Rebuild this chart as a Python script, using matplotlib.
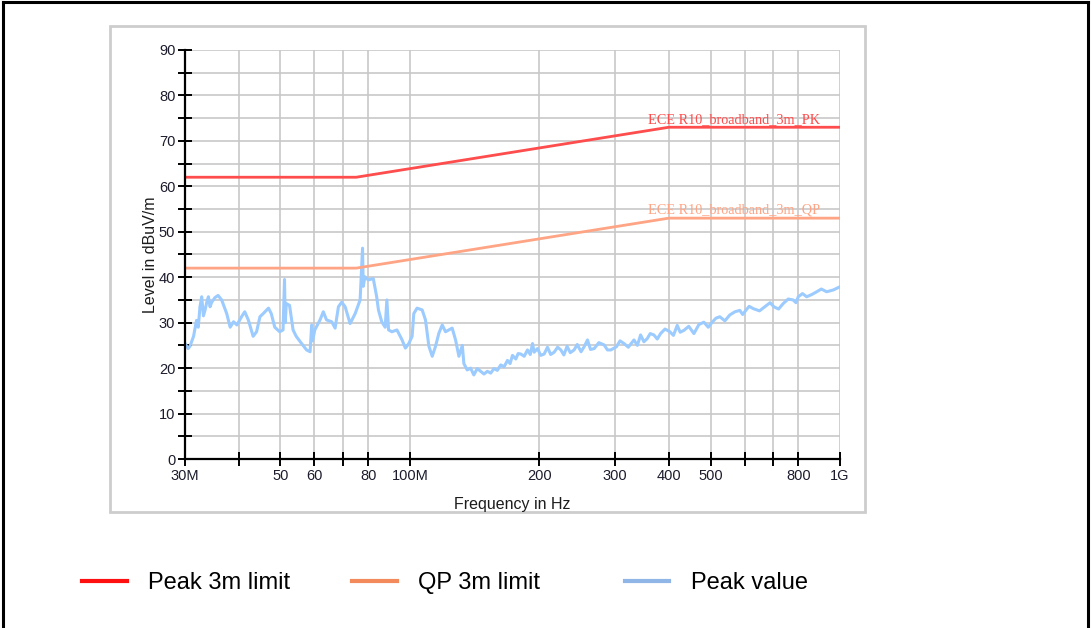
import matplotlib.pyplot as plt
from matplotlib.lines import Line2D
from matplotlib.patches import Rectangle
from matplotlib.ticker import FixedLocator, FixedFormatter, NullLocator

# limit lines (ECE R10 broadband, 3 m)
limit_freq = [30, 75, 400, 1000]
pk_limit = [62, 62, 73, 73]
qp_limit = [42, 42, 53, 53]

# measured peak trace, MHz / dBuV/m
peak_freq = [30.0, 30.5, 30.8, 31.4, 31.9, 32.2, 32.5, 32.8, 33.1, 33.4, 33.7, 34.0, 34.3, 34.6,
             35.2, 35.8, 36.5, 37.5, 38.2, 38.9, 39.6, 40.6, 41.3, 42.1, 43.2, 44.0, 44.8, 45.6,
             46.9, 47.6, 48.5, 49.8, 50.7, 51.1, 51.3, 51.6, 52.5, 53.5, 54.4, 56.0, 57.5, 58.6,
             59.1, 59.4, 60.1, 61.8, 62.9, 64.0, 65.8, 67.0, 68.2, 69.4, 70.7, 72.6, 74.6, 76.6,
             77.6, 77.9, 78.6, 80.0, 82.2, 83.7, 84.5, 86.0, 87.6, 88.4, 89.2, 90.8, 93.3, 95.9,
             97.6, 99.4, 101.2, 102.1, 103.9, 106.8, 108.7, 110.7, 112.7, 114.7, 116.8, 118.9,
             121.0, 123.2, 125.4, 127.7, 130.0, 132.4, 133.5, 135.9, 138.4, 140.8, 143.4, 146.0,
             148.7, 151.4, 154.1, 156.9, 159.7, 162.6, 165.6, 168.6, 171.0, 173.2, 176.3, 178.5,
             181.1, 184.4, 187.7, 190.5, 192.8, 194.5, 198.0, 201.5, 205.2, 208.9, 212.5, 216.5,
             220.5, 224.4, 228.0, 232.0, 236.0, 240.9, 245.0, 250.0, 254.2, 258.8, 263.0, 268.2,
             275.0, 282.9, 288.0, 293.2, 302.2, 308.0, 314.8, 322.0, 331.9, 338.0, 343.9, 350.0,
             356.4, 362.0, 369.3, 376.0, 382.7, 392.0, 402.2, 410.0, 418.4, 425.0, 433.6, 445.0,
             457.5, 470.0, 482.6, 494.0, 505.6, 515.0, 525.5, 540.0, 554.4, 570.0, 585.0, 594.0,
             604.1, 615.0, 628.2, 650.0, 675.0, 688.0, 702.0, 720.0, 737.8, 758.0, 778.4, 790.0,
             800.0, 818.0, 836.8, 860.0, 883.0, 905.0, 931.3, 965.0, 1000.0]
peak_level = [25.4, 24.3, 24.8, 27.0, 30.5, 29.0, 33.5, 35.7, 31.5, 32.8, 34.5, 35.7, 33.5, 34.5,
              35.5, 36.0, 35.0, 32.0, 29.0, 30.2, 29.5, 31.3, 32.4, 30.6, 27.0, 28.0, 31.3, 32.0,
              33.2, 32.0, 29.0, 28.0, 28.4, 39.5, 30.0, 34.2, 33.8, 28.4, 27.0, 25.4, 24.0, 23.6,
              29.5, 26.0, 28.4, 30.6, 32.4, 30.6, 30.2, 28.8, 33.5, 34.5, 33.5, 29.8, 32.0, 35.0,
              46.4, 38.0, 40.1, 39.4, 39.7, 35.7, 32.8, 30.2, 29.0, 35.0, 28.4, 28.0, 28.4, 26.2,
              24.4, 25.4, 27.0, 32.0, 33.2, 32.8, 30.6, 24.8, 22.6, 24.8, 27.7, 29.5,
              28.0, 28.4, 28.8, 26.2, 22.6, 25.0, 21.0, 19.6, 20.0, 18.5, 19.9, 19.3,
              18.7, 19.3, 18.9, 19.9, 19.5, 20.7, 20.3, 21.7, 21.0, 22.8, 22.0, 23.2,
              23.1, 22.6, 24.0, 23.0, 25.4, 23.5, 24.3, 22.8, 23.1, 24.6, 23.0, 23.5,
              24.6, 24.0, 22.9, 24.8, 23.4, 24.0, 25.2, 23.6, 24.7, 26.2, 24.1, 24.3,
              25.6, 25.1, 24.0, 24.0, 24.7, 26.0, 25.4, 24.6, 26.2, 25.0, 27.3, 25.8,
              26.5, 27.6, 27.3, 26.4, 27.6, 28.6, 28.0, 27.2, 29.4, 27.9, 28.3, 29.2,
              27.6, 29.6, 30.1, 29.0, 30.2, 31.0, 31.3, 30.4, 31.7, 32.4, 32.7, 31.8,
              32.7, 33.6, 33.1, 32.6, 33.8, 34.4, 33.5, 33.0, 34.2, 35.2, 35.0, 34.4,
              35.7, 36.4, 35.7, 36.2, 36.8, 37.4, 36.8, 37.2, 37.9]

xticks = [30, 40, 50, 60, 70, 80, 100, 200, 300, 400, 500, 600, 700, 800, 1000]
xtick_labels = ['30M', '', '50', '60', '', '80', '100M', '200', '300', '400', '500', '', '', '800', '1G']
yticks = list(range(0, 91, 10))
yticks_minor = list(range(5, 90, 10))

legend_names = ['Peak 3m limit', 'QP 3m limit', 'Peak value']
legend_colors = ['#ff1010', '#f28a5c', '#8fb6e6']

plt.rcParams['font.family'] = ['Liberation Sans', 'DejaVu Sans']

fig = plt.figure(figsize=(10.91, 6.28), dpi=100)

# outer frame and the chart panel
for xs, ys in [([0.003, 0.003], [0, 0.997]), ([0.003, 0.997], [0.997, 0.997]), ([0.997, 0.997], [0, 0.997])]:
    fig.add_artist(Line2D(xs, ys, transform=fig.transFigure, color='black', lw=2.2))
fig.add_artist(Rectangle((0.1012, 0.1855), 0.692, 0.7735, transform=fig.transFigure,
                         facecolor='white', edgecolor='#cdcdcd', lw=2, zorder=0))

ax = fig.add_axes([0.1696, 0.2691, 0.6003, 0.6513])
ax.set_xscale('log')
ax.set_xlim(30, 1000)
ax.set_ylim(0, 90)

ax.plot(limit_freq, pk_limit, color='#ff4c4c', lw=2, zorder=3)
ax.plot(limit_freq, qp_limit, color='#ffa585', lw=2, zorder=3)
ax.plot(peak_freq, peak_level, color='#9ccbff', lw=2.2, zorder=2)

ax.text(900, 73.3, 'ECE R10_broadband_3m_PK', color='#ff4c4c', ha='right', va='bottom',
        fontsize=10.3, family='Liberation Serif')
ax.text(900, 53.3, 'ECE R10_broadband_3m_QP', color='#ffa585', ha='right', va='bottom',
        fontsize=10.3, family='Liberation Serif')

ax.xaxis.set_major_locator(FixedLocator(xticks))
ax.xaxis.set_major_formatter(FixedFormatter(xtick_labels))
ax.xaxis.set_minor_locator(NullLocator())
ax.yaxis.set_major_locator(FixedLocator(yticks))
ax.yaxis.set_minor_locator(FixedLocator(yticks_minor))

ax.grid(True, which='both', color='#c8c8c8', lw=1.2)
ax.set_axisbelow(True)
for side in ['top', 'right']:
    ax.spines[side].set_visible(False)
for side in ['left', 'bottom']:
    ax.spines[side].set_linewidth(1.6)
    ax.spines[side].set_zorder(4)

ax.tick_params(which='both', direction='inout', length=10, width=1.4, colors='black',
               labelsize=10.5, labelcolor='#1c1c2c', pad=2)

ax.set_xlabel('Frequency in Hz', fontsize=11.5, labelpad=10, color='#1c1c1c')
ax.set_ylabel('Level in dBuV/m', fontsize=11.5, labelpad=1, color='#1c1c1c')

# legend: one entry each so the spacing can be placed freely
legend_x = [0.0755, 0.3225, 0.5725]
for name, col, lx in zip(legend_names, legend_colors, legend_x):
    h = Line2D([], [], color=col, lw=3)
    fig.legend([h], [name], loc='center left', bbox_to_anchor=(lx, 0.071), frameon=False,
               fontsize=17, handlelength=1.9, handletextpad=0.9, borderpad=0, borderaxespad=0)

fig.savefig('out.png', dpi=100)
